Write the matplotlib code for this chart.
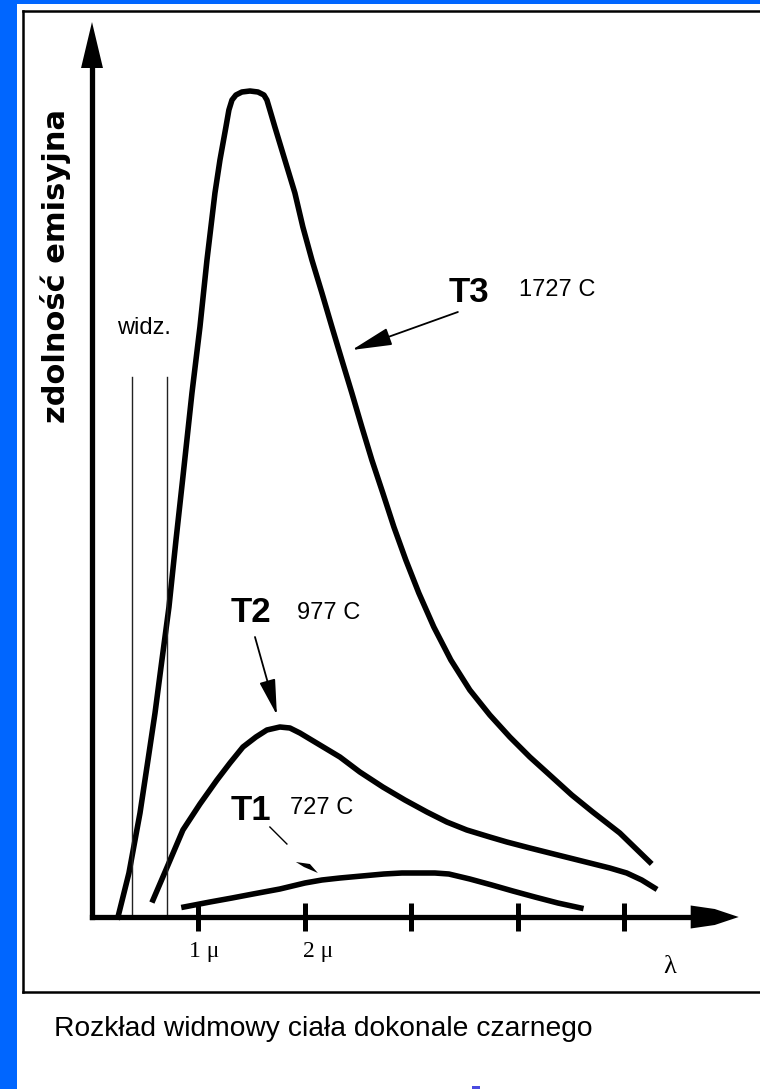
import matplotlib
matplotlib.use("Agg")
import matplotlib.pyplot as plt
from matplotlib.patches import Polygon, Rectangle
from matplotlib.lines import Line2D

plt.rcParams['font.family'] = ['Liberation Sans', 'DejaVu Sans']

# dlugosc fali [um], zdolnosc emisyjna [j. umowne]
lam_T3 = [0.244, 0.347, 0.451, 0.526, 0.592, 0.657, 0.723, 0.789, 0.854, 0.939, 1.014,
          1.080, 1.155, 1.202, 1.258, 1.286, 1.315, 1.352, 1.408, 1.484, 1.559, 1.615,
          1.643, 1.671, 1.718, 1.812, 1.906, 1.981, 2.066, 2.160, 2.254, 2.347, 2.441,
          2.535, 2.629, 2.732, 2.836, 2.948, 3.070, 3.211, 3.371, 3.549, 3.737, 3.925,
          4.113, 4.300, 4.507, 4.704, 4.958, 5.239]
em_T3 = [0.00, 0.44, 1.04, 1.57, 2.04, 2.57, 3.10, 3.77, 4.40, 5.24, 5.90,
         6.57, 7.24, 7.57, 7.90, 8.07, 8.17, 8.22, 8.25, 8.26, 8.25, 8.22,
         8.17, 8.07, 7.90, 7.57, 7.24, 6.90, 6.57, 6.24, 5.90, 5.57, 5.24,
         4.90, 4.57, 4.24, 3.90, 3.57, 3.24, 2.90, 2.57, 2.27, 2.02, 1.80,
         1.60, 1.42, 1.22, 1.05, 0.84, 0.55]

lam_T2 = [0.573, 0.714, 0.854, 1.014, 1.174, 1.296, 1.418, 1.540, 1.643, 1.765, 1.859,
          1.953, 2.141, 2.329, 2.516, 2.732, 2.939, 3.146, 3.333, 3.521, 3.737, 3.897,
          4.113, 4.300, 4.488, 4.676, 4.864, 5.023, 5.164, 5.286]
em_T2 = [0.17, 0.52, 0.87, 1.13, 1.37, 1.54, 1.70, 1.80, 1.87, 1.90, 1.89,
         1.84, 1.72, 1.60, 1.45, 1.30, 1.17, 1.05, 0.95, 0.87, 0.80, 0.75,
         0.69, 0.64, 0.59, 0.54, 0.49, 0.44, 0.37, 0.29]

lam_T1 = [0.864, 1.108, 1.315, 1.512, 1.765, 2.000, 2.160, 2.329, 2.535, 2.742,
          2.911, 3.080, 3.221, 3.352, 3.549, 3.756, 3.953, 4.160, 4.376, 4.592]
em_T1 = [0.10, 0.15, 0.19, 0.23, 0.28, 0.34, 0.37, 0.39, 0.41, 0.43,
         0.44, 0.44, 0.44, 0.43, 0.38, 0.32, 0.26, 0.20, 0.14, 0.09]

# granice zakresu widzialnego
lam_vis = [0.376, 0.704]
vis_top = 5.40

ticks = [1, 2, 3, 4, 5]
tick_labels = {1: "1 \u03bc", 2: "2 \u03bc"}

W, H = 760, 1089
fig = plt.figure(figsize=(W / 100, H / 100), dpi=100)
fig.patch.set_facecolor('white')

# niebieskie tlo slajdu i ramka
blue = '#0066ff'
fig.add_artist(Rectangle((0, 0), 17 / W, 1, transform=fig.transFigure, color=blue, lw=0))
fig.add_artist(Rectangle((0, 1 - 3.5 / H), 1, 3.5 / H, transform=fig.transFigure, color=blue, lw=0))
fx, ft, fb = 23 / W, 1 - 10.5 / H, 1 - 992 / H
fig.add_artist(Line2D([fx, fx], [fb, ft], transform=fig.transFigure, color='k', lw=1.8))
fig.add_artist(Line2D([fx, 1.0], [ft, ft], transform=fig.transFigure, color='k', lw=1.8))
fig.add_artist(Line2D([fx, 1.0], [fb, fb], transform=fig.transFigure, color='k', lw=1.8))
fig.add_artist(Rectangle((472 / W, 0), 8 / W, 3 / H, transform=fig.transFigure,
                         color='#4a4ae0', lw=0))

ax = fig.add_axes([92 / W, (H - 917) / H, 660 / W, 900 / H])
ax.set_xlim(0, 6.2)
ax.set_ylim(0, 9.0)
ax.patch.set_alpha(0)
for s in ['top', 'right']:
    ax.spines[s].set_visible(False)
for s in ['left', 'bottom']:
    ax.spines[s].set_linewidth(3.8)
ax.spines['bottom'].set_bounds(0, 5.65)
ax.spines['left'].set_bounds(0, 8.5)
ax.set_xticks(ticks)
ax.set_yticks([])
ax.tick_params(axis='x', direction='inout', length=19.5, width=3.6, labelbottom=False)

# groty osi
ax.add_patch(Polygon([(5.624, 0.115), (5.85, 0.08), (6.075, 0.0), (5.85, -0.08), (5.624, -0.115)],
                     closed=True, color='k', clip_on=False, lw=0))
ax.add_patch(Polygon([(0, 8.95), (-0.103, 8.49), (0.103, 8.49)],
                     closed=True, color='k', clip_on=False, lw=0))

# krzywe Plancka
for lx, ly in [(lam_T3, em_T3), (lam_T2, em_T2), (lam_T1, em_T1)]:
    ax.plot(lx, ly, color='k', lw=4.0, solid_joinstyle='round', clip_on=False)

for lv in lam_vis:
    ax.plot([lv, lv], [0, vis_top], color='#222222', lw=1.0)
ax.text(0.488, 5.89, "widz.", fontsize=17, ha='center', va='center')

# podpisy temperatur
bold = dict(fontweight='bold', fontsize=25, ha='center', va='center')
ax.text(3.54, 6.25, "T3", **bold)
ax.text(4.366, 6.27, "1727 C", fontsize=17, ha='center', va='center')
ax.text(1.493, 3.04, "T2", **bold)
ax.text(2.225, 3.04, "977 C", fontsize=17, ha='center', va='center')
ax.text(1.493, 1.07, "T1", **bold)
ax.text(2.16, 1.09, "727 C", fontsize=17, ha='center', va='center')

ax.annotate('', xy=(2.441, 5.67), xytext=(3.437, 6.05),
            arrowprops=dict(arrowstyle='-|>,head_length=2.5,head_width=0.55', mutation_scale=10,
                            lw=1.3, color='k', shrinkA=0, shrinkB=0))
ax.annotate('', xy=(1.737, 2.02), xytext=(1.531, 2.80),
            arrowprops=dict(arrowstyle='-|>,head_length=2.2,head_width=0.5', mutation_scale=10,
                            lw=1.3, color='k', shrinkA=0, shrinkB=0))
ax.plot([1.671, 1.831], [0.90, 0.73], color='k', lw=1.0)
ax.add_patch(Polygon([(1.915, 0.55), (2.047, 0.53), (2.122, 0.44), (1.991, 0.50)],
                     closed=True, color='k', lw=0))

# opisy osi
serif = ['Liberation Serif', 'DejaVu Serif']
for t, lab in tick_labels.items():
    ax.text(t + 0.05 + 0.07 * (t - 1), -0.35, lab, family=serif, fontsize=17,
            ha='center', va='center')
ax.text(5.427, -0.50, "\u03bb", family=serif, fontsize=19, ha='center', va='center')
ax.text(-0.347, 6.51, "zdolność emisyjna", rotation=90, fontsize=22, fontweight='bold',
        family=['DejaVu Sans'], ha='center', va='center')

fig.text(54 / W, 1 - 1029 / H, "Rozkład widmowy ciała dokonale czarnego", fontsize=20.3,
         ha='left', va='center')

fig.savefig('out.png', dpi=100)
